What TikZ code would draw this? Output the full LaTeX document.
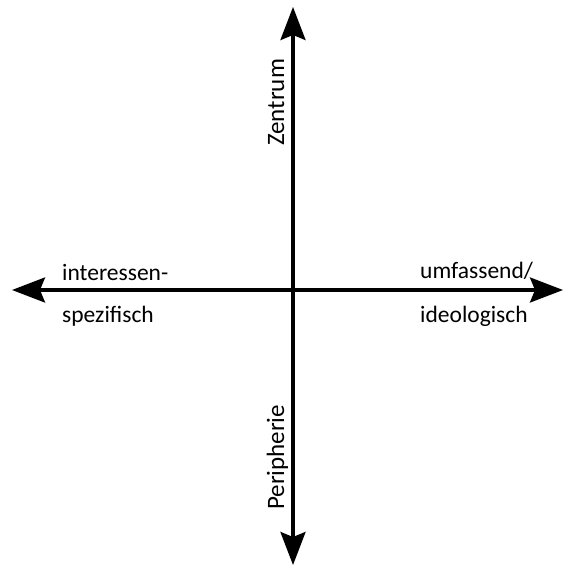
\documentclass[tikz,border=0pt]{standalone}
\usepackage{fontspec}
\setmainfont{Carlito}
\usetikzlibrary{arrows.meta,positioning}

\begin{document}
\begin{tikzpicture}[x=1pt, y=-1pt,
  axis/.style = {line width=3.2pt, {Stealth[length=33pt, width=25pt, inset=5pt]}-{Stealth[length=33pt, width=25pt, inset=5pt]}},
  axislabel/.style = {inner sep=0pt, font=\fontsize{23.5}{28}\selectfont},
  polelabel/.style = {inner sep=0pt, rotate=90, font=\fontsize{25}{30}\selectfont}]

  \useasboundingbox (0,0) rectangle (563,567);

  % ends of the two axes
  \coordinate (mitte) at (293,290);
  \coordinate (links) at (12,290);
  \coordinate (rechts) at (563,290);
  \coordinate (oben) at (293,7);
  \coordinate (unten) at (293,565);

  \draw[axis] (links) -- (rechts);
  \draw[axis] (unten) -- (oben);

  \node[axislabel, anchor=base west] (interessen) at (62,280) {interessen-};
  \node[axislabel, anchor=base west] (spezifisch) at (62,322) {spezifisch};
  \node[axislabel, anchor=base west] (umfassend) at (420,278) {umfassend/};
  \node[axislabel, anchor=base west] (ideologisch) at (420,322) {ideologisch};
  \node[polelabel, anchor=base west] (zentrum) at (284,146) {Zentrum};
  \node[polelabel, anchor=base west] (peripherie) at (284,510) {Peripherie};

\end{tikzpicture}
\end{document}
